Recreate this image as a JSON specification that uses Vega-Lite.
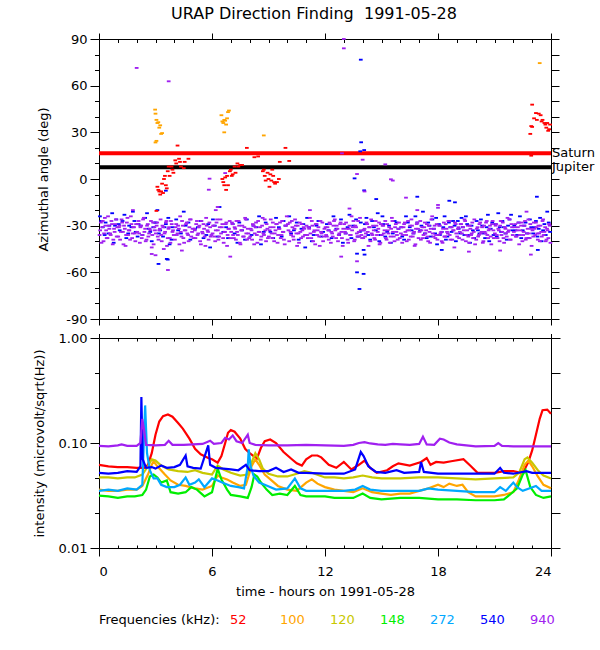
{
  "$schema": "https://vega.github.io/schema/vega-lite/v6.json",
  "title": {"text": "URAP Direction Finding\u00a0 1991-05-28", "anchor": "middle", "font": "DejaVu Sans", "fontSize": 16, "fontWeight": "normal", "color": "black", "offset": 10},
  "padding": {"left": 32, "top": 6, "right": 5, "bottom": 5},
  "bounds": "flush",
  "spacing": 19,
  "config": {
    "font": "DejaVu Sans",
    "view": {"stroke": "black", "strokeWidth": 1},
    "axis": {"domain": false, "grid": false, "labelFont": "DejaVu Sans", "labelFontSize": 13, "labelColor": "black", "tickColor": "black", "tickWidth": 1, "titleFont": "DejaVu Sans", "titleFontSize": 13, "titleFontWeight": "normal", "titleColor": "black"}
  },
  "datasets": {
    "planets": [
      {"body": "Saturn", "az": 16.5},
      {"body": "Jupiter", "az": 7.5}
    ],
    "df": [
      {"t":0.05,"a":-24,"f":"540"},{"t":0.2,"a":-31,"f":"540"},{"t":0.35,"a":-28,"f":"540"},{"t":0.5,"a":-35,"f":"540"},{"t":0.7,"a":-22,"f":"540"},{"t":0.85,"a":-30,"f":"540"},
      {"t":1.1,"a":-33,"f":"540"},{"t":1.25,"a":-27,"f":"540"},{"t":1.45,"a":-38,"f":"540"},{"t":1.6,"a":-30,"f":"540"},{"t":1.8,"a":-21,"f":"540"},{"t":1.95,"a":-34,"f":"540"},
      {"t":2.1,"a":-29,"f":"540"},{"t":2.3,"a":-36,"f":"540"},{"t":2.45,"a":-25,"f":"540"},{"t":2.65,"a":-32,"f":"540"},{"t":2.8,"a":-40,"f":"540"},{"t":2.95,"a":-28,"f":"540"},
      {"t":3.1,"a":-20,"f":"540"},{"t":3.25,"a":-33,"f":"540"},{"t":3.4,"a":-37,"f":"540"},{"t":3.55,"a":-29,"f":"540"},{"t":3.75,"a":-42,"f":"540"},{"t":3.9,"a":-31,"f":"540"},
      {"t":4.1,"a":-26,"f":"540"},{"t":4.35,"a":-35,"f":"540"},{"t":4.6,"a":-30,"f":"540"},{"t":4.85,"a":-39,"f":"540"},
      {"t":5.1,"a":-32,"f":"540"},{"t":5.4,"a":-27,"f":"540"},{"t":5.7,"a":-36,"f":"540"},{"t":5.9,"a":-44,"f":"540"},
      {"t":6.15,"a":-30,"f":"540"},{"t":6.4,"a":-18,"f":"540"},{"t":6.6,"a":-34,"f":"540"},{"t":6.85,"a":-38,"f":"540"},
      {"t":7.1,"a":-29,"f":"540"},{"t":7.35,"a":-41,"f":"540"},{"t":7.6,"a":-33,"f":"540"},{"t":7.85,"a":-26,"f":"540"},
      {"t":8.1,"a":-36,"f":"540"},{"t":8.35,"a":-31,"f":"540"},{"t":8.6,"a":-42,"f":"540"},{"t":8.85,"a":-28,"f":"540"},
      {"t":9.1,"a":-34,"f":"540"},{"t":9.4,"a":-25,"f":"540"},{"t":9.7,"a":-37,"f":"540"},{"t":9.9,"a":-30,"f":"540"},
      {"t":10.1,"a":-24,"f":"540"},{"t":10.35,"a":-33,"f":"540"},{"t":10.6,"a":-39,"f":"540"},{"t":10.85,"a":-29,"f":"540"},{"t":10.95,"a":-44,"f":"540"},
      {"t":11.15,"a":-31,"f":"540"},{"t":11.4,"a":-36,"f":"540"},{"t":11.65,"a":-27,"f":"540"},{"t":11.9,"a":-34,"f":"540"},
      {"t":12.1,"a":-29,"f":"540"},{"t":12.35,"a":-38,"f":"540"},{"t":12.6,"a":-32,"f":"540"},{"t":12.85,"a":-26,"f":"540"},{"t":12.95,"a":-41,"f":"540"},
      {"t":13.1,"a":-35,"f":"540"},{"t":13.3,"a":-23,"f":"540"},{"t":13.5,"a":-30,"f":"540"},{"t":13.75,"a":-37,"f":"540"},{"t":13.9,"a":-28,"f":"540"},
      {"t":14.05,"a":-33,"f":"540"},{"t":14.2,"a":-25,"f":"540"},{"t":14.4,"a":-39,"f":"540"},{"t":14.6,"a":-31,"f":"540"},{"t":14.8,"a":-22,"f":"540"},{"t":14.95,"a":-36,"f":"540"},
      {"t":15.1,"a":-29,"f":"540"},{"t":15.3,"a":-34,"f":"540"},{"t":15.5,"a":-41,"f":"540"},{"t":15.7,"a":-27,"f":"540"},{"t":15.9,"a":-32,"f":"540"},
      {"t":16.1,"a":-37,"f":"540"},{"t":16.3,"a":-24,"f":"540"},{"t":16.5,"a":-31,"f":"540"},{"t":16.7,"a":-35,"f":"540"},{"t":16.9,"a":-28,"f":"540"},
      {"t":17.05,"a":-33,"f":"540"},{"t":17.2,"a":-21,"f":"540"},{"t":17.4,"a":-38,"f":"540"},{"t":17.55,"a":-30,"f":"540"},{"t":17.7,"a":-26,"f":"540"},{"t":17.85,"a":-35,"f":"540"},{"t":17.95,"a":-42,"f":"540"},
      {"t":18.05,"a":-29,"f":"540"},{"t":18.2,"a":-34,"f":"540"},{"t":18.35,"a":-24,"f":"540"},{"t":18.5,"a":-37,"f":"540"},{"t":18.65,"a":-31,"f":"540"},{"t":18.8,"a":-27,"f":"540"},{"t":18.95,"a":-40,"f":"540"},
      {"t":19.1,"a":-32,"f":"540"},{"t":19.25,"a":-25,"f":"540"},{"t":19.4,"a":-36,"f":"540"},{"t":19.55,"a":-29,"f":"540"},{"t":19.7,"a":-41,"f":"540"},{"t":19.85,"a":-33,"f":"540"},
      {"t":20.05,"a":-27,"f":"540"},{"t":20.2,"a":-35,"f":"540"},{"t":20.35,"a":-30,"f":"540"},{"t":20.5,"a":-38,"f":"540"},{"t":20.65,"a":-23,"f":"540"},{"t":20.8,"a":-32,"f":"540"},{"t":20.95,"a":-36,"f":"540"},
      {"t":21.05,"a":-29,"f":"540"},{"t":21.2,"a":-22,"f":"540"},{"t":21.35,"a":-34,"f":"540"},{"t":21.5,"a":-31,"f":"540"},{"t":21.65,"a":-39,"f":"540"},{"t":21.8,"a":-26,"f":"540"},{"t":21.95,"a":-33,"f":"540"},
      {"t":22.05,"a":-30,"f":"540"},{"t":22.2,"a":-36,"f":"540"},{"t":22.35,"a":-24,"f":"540"},{"t":22.5,"a":-33,"f":"540"},{"t":22.65,"a":-28,"f":"540"},{"t":22.8,"a":-38,"f":"540"},{"t":22.95,"a":-31,"f":"540"},
      {"t":23.05,"a":-35,"f":"540"},{"t":23.2,"a":-27,"f":"540"},{"t":23.35,"a":-32,"f":"540"},{"t":23.5,"a":-40,"f":"540"},{"t":23.65,"a":-29,"f":"540"},{"t":23.8,"a":-21,"f":"540"},{"t":23.95,"a":-34,"f":"540"},
      {"t":0.12,"a":-27,"f":"540"},{"t":0.3,"a":-36,"f":"540"},{"t":0.55,"a":-30,"f":"540"},{"t":0.78,"a":-41,"f":"540"},{"t":0.92,"a":-26,"f":"540"},
      {"t":1.05,"a":-29,"f":"540"},{"t":1.35,"a":-23,"f":"540"},{"t":1.55,"a":-35,"f":"540"},{"t":1.72,"a":-31,"f":"540"},{"t":1.88,"a":-27,"f":"540"},
      {"t":2.05,"a":-37,"f":"540"},{"t":2.2,"a":-30,"f":"540"},{"t":2.55,"a":-22,"f":"540"},{"t":2.72,"a":-34,"f":"540"},{"t":2.88,"a":-31,"f":"540"},
      {"t":3.02,"a":-28,"f":"540"},{"t":3.18,"a":-35,"f":"540"},{"t":3.48,"a":-31,"f":"540"},{"t":3.68,"a":-25,"f":"540"},{"t":3.85,"a":-39,"f":"540"},
      {"t":4.2,"a":-33,"f":"540"},{"t":4.5,"a":-21,"f":"540"},{"t":4.75,"a":-28,"f":"540"},
      {"t":5.25,"a":-31,"f":"540"},{"t":5.55,"a":-38,"f":"540"},{"t":5.8,"a":-29,"f":"540"},
      {"t":6.05,"a":-26,"f":"540"},{"t":6.3,"a":-37,"f":"540"},{"t":6.75,"a":-31,"f":"540"},
      {"t":7.2,"a":-35,"f":"540"},{"t":7.45,"a":-28,"f":"540"},{"t":7.75,"a":-39,"f":"540"},
      {"t":8.2,"a":-30,"f":"540"},{"t":8.5,"a":-24,"f":"540"},{"t":8.75,"a":-34,"f":"540"},
      {"t":9.25,"a":-38,"f":"540"},{"t":9.55,"a":-31,"f":"540"},{"t":9.8,"a":-27,"f":"540"},
      {"t":10.2,"a":-35,"f":"540"},{"t":10.5,"a":-28,"f":"540"},{"t":10.75,"a":-32,"f":"540"},
      {"t":11.05,"a":-25,"f":"540"},{"t":11.3,"a":-40,"f":"540"},{"t":11.55,"a":-30,"f":"540"},{"t":11.8,"a":-37,"f":"540"},
      {"t":12.2,"a":-33,"f":"540"},{"t":12.45,"a":-24,"f":"540"},{"t":12.75,"a":-36,"f":"540"},
      {"t":13.2,"a":-31,"f":"540"},{"t":13.4,"a":-38,"f":"540"},{"t":13.65,"a":-26,"f":"540"},{"t":13.85,"a":-34,"f":"540"},
      {"t":14.12,"a":-29,"f":"540"},{"t":14.3,"a":-36,"f":"540"},{"t":14.5,"a":-27,"f":"540"},{"t":14.7,"a":-33,"f":"540"},{"t":14.88,"a":-40,"f":"540"},
      {"t":15.05,"a":-24,"f":"540"},{"t":15.2,"a":-37,"f":"540"},{"t":15.4,"a":-30,"f":"540"},{"t":15.6,"a":-35,"f":"540"},{"t":15.8,"a":-28,"f":"540"},
      {"t":16.05,"a":-31,"f":"540"},{"t":16.2,"a":-39,"f":"540"},{"t":16.4,"a":-28,"f":"540"},{"t":16.6,"a":-33,"f":"540"},{"t":16.8,"a":-24,"f":"540"},
      {"t":17.12,"a":-30,"f":"540"},{"t":17.3,"a":-35,"f":"540"},{"t":17.48,"a":-28,"f":"540"},{"t":17.62,"a":-37,"f":"540"},{"t":17.78,"a":-32,"f":"540"},{"t":17.9,"a":-25,"f":"540"},
      {"t":18.1,"a":-36,"f":"540"},{"t":18.28,"a":-31,"f":"540"},{"t":18.42,"a":-39,"f":"540"},{"t":18.58,"a":-28,"f":"540"},{"t":18.72,"a":-34,"f":"540"},{"t":18.88,"a":-30,"f":"540"},
      {"t":19.05,"a":-27,"f":"540"},{"t":19.18,"a":-35,"f":"540"},{"t":19.32,"a":-31,"f":"540"},{"t":19.48,"a":-24,"f":"540"},{"t":19.62,"a":-36,"f":"540"},{"t":19.78,"a":-30,"f":"540"},{"t":19.92,"a":-38,"f":"540"},
      {"t":20.12,"a":-33,"f":"540"},{"t":20.28,"a":-26,"f":"540"},{"t":20.42,"a":-35,"f":"540"},{"t":20.58,"a":-31,"f":"540"},{"t":20.72,"a":-40,"f":"540"},{"t":20.88,"a":-28,"f":"540"},
      {"t":21.12,"a":-37,"f":"540"},{"t":21.28,"a":-31,"f":"540"},{"t":21.42,"a":-27,"f":"540"},{"t":21.58,"a":-35,"f":"540"},{"t":21.72,"a":-30,"f":"540"},{"t":21.88,"a":-23,"f":"540"},
      {"t":22.12,"a":-33,"f":"540"},{"t":22.28,"a":-28,"f":"540"},{"t":22.42,"a":-38,"f":"540"},{"t":22.58,"a":-30,"f":"540"},{"t":22.72,"a":-35,"f":"540"},{"t":22.88,"a":-26,"f":"540"},
      {"t":23.12,"a":-31,"f":"540"},{"t":23.28,"a":-37,"f":"540"},{"t":23.42,"a":-25,"f":"540"},{"t":23.58,"a":-33,"f":"540"},{"t":23.72,"a":-36,"f":"540"},{"t":23.88,"a":-28,"f":"540"},
      {"t":13.9,"a":76.7,"f":"540"},{"t":14.08,"a":18.6,"f":"540"},{"t":13.92,"a":23.6,"f":"540"},{"t":13.87,"a":17.8,"f":"540"},{"t":13.57,"a":0.4,"f":"540"},{"t":14.08,"a":-7.3,"f":"540"},{"t":13.7,"a":-60,"f":"540"},{"t":14.05,"a":-61,"f":"540"},{"t":13.83,"a":-70.7,"f":"540"},{"t":13.7,"a":-48,"f":"540"},{"t":14.05,"a":-45.6,"f":"540"},{"t":14.1,"a":-48.6,"f":"540"},{"t":18.2,"a":-45.6,"f":"540"},{"t":23.3,"a":-45.6,"f":"540"},{"t":23.25,"a":-11.4,"f":"540"},{"t":16.9,"a":-11.4,"f":"540"},{"t":14.72,"a":-12.9,"f":"540"},{"t":18.6,"a":-14,"f":"540"},{"t":3.16,"a":-54.6,"f":"540"},{"t":3.6,"a":-51.4,"f":"540"},{"t":3.65,"a":-51.8,"f":"540"},{"t":18.9,"a":-15,"f":"540"},{"t":3.55,"a":-7.5,"f":"540"},
      {"t":0.03,"a":-36,"f":"940"},{"t":0.10,"a":-28,"f":"940"},{"t":0.17,"a":-31,"f":"940"},{"t":0.24,"a":-40,"f":"940"},{"t":0.31,"a":-25,"f":"940"},{"t":0.38,"a":-33,"f":"940"},{"t":0.45,"a":-38,"f":"940"},{"t":0.52,"a":-30,"f":"940"},{"t":0.59,"a":-35,"f":"940"},{"t":0.66,"a":-27,"f":"940"},{"t":0.73,"a":-42,"f":"940"},{"t":0.80,"a":-32,"f":"940"},{"t":0.87,"a":-29,"f":"940"},{"t":0.94,"a":-37,"f":"940"},
      {"t":1.06,"a":-31,"f":"940"},{"t":1.12,"a":-39,"f":"940"},{"t":1.20,"a":-26,"f":"940"},{"t":1.27,"a":-34,"f":"940"},{"t":1.33,"a":-30,"f":"940"},{"t":1.41,"a":-43,"f":"940"},{"t":1.48,"a":-28,"f":"940"},{"t":1.55,"a":-36,"f":"940"},{"t":1.61,"a":-33,"f":"940"},{"t":1.69,"a":-24,"f":"940"},{"t":1.76,"a":-38,"f":"940"},{"t":1.82,"a":-31,"f":"940"},{"t":1.90,"a":-35,"f":"940"},{"t":1.97,"a":-29,"f":"940"},
      {"t":2.03,"a":-34,"f":"940"},{"t":2.10,"a":-27,"f":"940"},{"t":2.17,"a":-41,"f":"940"},{"t":2.24,"a":-30,"f":"940"},{"t":2.31,"a":-36,"f":"940"},{"t":2.38,"a":-25,"f":"940"},{"t":2.45,"a":-32,"f":"940"},{"t":2.52,"a":-39,"f":"940"},{"t":2.59,"a":-29,"f":"940"},{"t":2.66,"a":-35,"f":"940"},{"t":2.73,"a":-33,"f":"940"},{"t":2.80,"a":-44,"f":"940"},{"t":2.87,"a":-28,"f":"940"},{"t":2.94,"a":-31,"f":"940"},
      {"t":3.06,"a":-30,"f":"940"},{"t":3.12,"a":-37,"f":"940"},{"t":3.20,"a":-33,"f":"940"},{"t":3.27,"a":-26,"f":"940"},{"t":3.33,"a":-40,"f":"940"},{"t":3.41,"a":-31,"f":"940"},{"t":3.48,"a":-35,"f":"940"},{"t":3.55,"a":-28,"f":"940"},{"t":3.61,"a":-43,"f":"940"},{"t":3.69,"a":-32,"f":"940"},{"t":3.76,"a":-38,"f":"940"},{"t":3.82,"a":-27,"f":"940"},{"t":3.90,"a":-34,"f":"940"},{"t":3.97,"a":-36,"f":"940"},
      {"t":4.03,"a":-39,"f":"940"},{"t":4.10,"a":-29,"f":"940"},{"t":4.17,"a":-35,"f":"940"},{"t":4.24,"a":-32,"f":"940"},{"t":4.31,"a":-24,"f":"940"},{"t":4.38,"a":-37,"f":"940"},{"t":4.45,"a":-30,"f":"940"},{"t":4.52,"a":-41,"f":"940"},{"t":4.59,"a":-33,"f":"940"},{"t":4.66,"a":-28,"f":"940"},{"t":4.73,"a":-36,"f":"940"},{"t":4.80,"a":-31,"f":"940"},{"t":4.87,"a":-26,"f":"940"},{"t":4.94,"a":-34,"f":"940"},
      {"t":5.06,"a":-32,"f":"940"},{"t":5.12,"a":-38,"f":"940"},{"t":5.20,"a":-27,"f":"940"},{"t":5.27,"a":-35,"f":"940"},{"t":5.33,"a":-30,"f":"940"},{"t":5.41,"a":-42,"f":"940"},{"t":5.48,"a":-34,"f":"940"},{"t":5.55,"a":-29,"f":"940"},{"t":5.61,"a":-37,"f":"940"},{"t":5.69,"a":-25,"f":"940"},{"t":5.76,"a":-33,"f":"940"},{"t":5.82,"a":-39,"f":"940"},{"t":5.90,"a":-31,"f":"940"},{"t":5.97,"a":-36,"f":"940"},
      {"t":6.03,"a":-35,"f":"940"},{"t":6.10,"a":-30,"f":"940"},{"t":6.17,"a":-40,"f":"940"},{"t":6.24,"a":-28,"f":"940"},{"t":6.31,"a":-33,"f":"940"},{"t":6.38,"a":-37,"f":"940"},{"t":6.45,"a":-26,"f":"940"},{"t":6.52,"a":-31,"f":"940"},{"t":6.59,"a":-38,"f":"940"},{"t":6.66,"a":-34,"f":"940"},{"t":6.73,"a":-29,"f":"940"},{"t":6.80,"a":-43,"f":"940"},{"t":6.87,"a":-32,"f":"940"},{"t":6.94,"a":-27,"f":"940"},
      {"t":7.06,"a":-28,"f":"940"},{"t":7.12,"a":-36,"f":"940"},{"t":7.20,"a":-31,"f":"940"},{"t":7.27,"a":-39,"f":"940"},{"t":7.33,"a":-34,"f":"940"},{"t":7.41,"a":-27,"f":"940"},{"t":7.48,"a":-41,"f":"940"},{"t":7.55,"a":-33,"f":"940"},{"t":7.61,"a":-30,"f":"940"},{"t":7.69,"a":-37,"f":"940"},{"t":7.76,"a":-25,"f":"940"},{"t":7.82,"a":-35,"f":"940"},{"t":7.90,"a":-32,"f":"940"},{"t":7.97,"a":-38,"f":"940"},
      {"t":8.03,"a":-37,"f":"940"},{"t":8.10,"a":-33,"f":"940"},{"t":8.17,"a":-29,"f":"940"},{"t":8.24,"a":-42,"f":"940"},{"t":8.31,"a":-31,"f":"940"},{"t":8.38,"a":-36,"f":"940"},{"t":8.45,"a":-27,"f":"940"},{"t":8.52,"a":-34,"f":"940"},{"t":8.59,"a":-39,"f":"940"},{"t":8.66,"a":-30,"f":"940"},{"t":8.73,"a":-35,"f":"940"},{"t":8.80,"a":-26,"f":"940"},{"t":8.87,"a":-40,"f":"940"},{"t":8.94,"a":-32,"f":"940"},
      {"t":9.06,"a":-33,"f":"940"},{"t":9.12,"a":-26,"f":"940"},{"t":9.20,"a":-38,"f":"940"},{"t":9.27,"a":-31,"f":"940"},{"t":9.33,"a":-35,"f":"940"},{"t":9.41,"a":-29,"f":"940"},{"t":9.48,"a":-41,"f":"940"},{"t":9.55,"a":-32,"f":"940"},{"t":9.61,"a":-28,"f":"940"},{"t":9.69,"a":-36,"f":"940"},{"t":9.76,"a":-34,"f":"940"},{"t":9.82,"a":-39,"f":"940"},{"t":9.90,"a":-30,"f":"940"},{"t":9.97,"a":-24,"f":"940"},
      {"t":10.03,"a":-29,"f":"940"},{"t":10.10,"a":-40,"f":"940"},{"t":10.17,"a":-34,"f":"940"},{"t":10.24,"a":-27,"f":"940"},{"t":10.31,"a":-37,"f":"940"},{"t":10.38,"a":-32,"f":"940"},{"t":10.45,"a":-30,"f":"940"},{"t":10.52,"a":-43,"f":"940"},{"t":10.59,"a":-35,"f":"940"},{"t":10.66,"a":-28,"f":"940"},{"t":10.73,"a":-38,"f":"940"},{"t":10.80,"a":-33,"f":"940"},{"t":10.87,"a":-31,"f":"940"},{"t":10.94,"a":-36,"f":"940"},
      {"t":11.06,"a":-36,"f":"940"},{"t":11.12,"a":-31,"f":"940"},{"t":11.20,"a":-25,"f":"940"},{"t":11.27,"a":-38,"f":"940"},{"t":11.33,"a":-30,"f":"940"},{"t":11.41,"a":-34,"f":"940"},{"t":11.48,"a":-42,"f":"940"},{"t":11.55,"a":-29,"f":"940"},{"t":11.61,"a":-33,"f":"940"},{"t":11.69,"a":-37,"f":"940"},{"t":11.76,"a":-27,"f":"940"},{"t":11.82,"a":-35,"f":"940"},{"t":11.90,"a":-40,"f":"940"},{"t":11.97,"a":-32,"f":"940"},
      {"t":12.03,"a":-31,"f":"940"},{"t":12.10,"a":-37,"f":"940"},{"t":12.17,"a":-33,"f":"940"},{"t":12.24,"a":-28,"f":"940"},{"t":12.31,"a":-41,"f":"940"},{"t":12.38,"a":-35,"f":"940"},{"t":12.45,"a":-30,"f":"940"},{"t":12.52,"a":-26,"f":"940"},{"t":12.59,"a":-38,"f":"940"},{"t":12.66,"a":-32,"f":"940"},{"t":12.73,"a":-36,"f":"940"},{"t":12.80,"a":-29,"f":"940"},{"t":12.87,"a":-34,"f":"940"},{"t":12.94,"a":-43,"f":"940"},
      {"t":13.06,"a":-34,"f":"940"},{"t":13.12,"a":-28,"f":"940"},{"t":13.20,"a":-39,"f":"940"},{"t":13.27,"a":-32,"f":"940"},{"t":13.33,"a":-36,"f":"940"},{"t":13.41,"a":-24,"f":"940"},{"t":13.48,"a":-31,"f":"940"},{"t":13.55,"a":-40,"f":"940"},{"t":13.61,"a":-30,"f":"940"},{"t":13.69,"a":-35,"f":"940"},{"t":13.76,"a":-27,"f":"940"},{"t":13.82,"a":-37,"f":"940"},{"t":13.90,"a":-33,"f":"940"},{"t":13.97,"a":-38,"f":"940"},
      {"t":14.03,"a":-38,"f":"940"},{"t":14.10,"a":-32,"f":"940"},{"t":14.17,"a":-35,"f":"940"},{"t":14.24,"a":-29,"f":"940"},{"t":14.31,"a":-43,"f":"940"},{"t":14.38,"a":-31,"f":"940"},{"t":14.45,"a":-26,"f":"940"},{"t":14.52,"a":-36,"f":"940"},{"t":14.59,"a":-33,"f":"940"},{"t":14.66,"a":-39,"f":"940"},{"t":14.73,"a":-30,"f":"940"},{"t":14.80,"a":-34,"f":"940"},{"t":14.87,"a":-28,"f":"940"},{"t":14.94,"a":-41,"f":"940"},
      {"t":15.06,"a":-30,"f":"940"},{"t":15.12,"a":-35,"f":"940"},{"t":15.20,"a":-27,"f":"940"},{"t":15.27,"a":-39,"f":"940"},{"t":15.33,"a":-33,"f":"940"},{"t":15.41,"a":-31,"f":"940"},{"t":15.48,"a":-37,"f":"940"},{"t":15.55,"a":-25,"f":"940"},{"t":15.61,"a":-34,"f":"940"},{"t":15.69,"a":-40,"f":"940"},{"t":15.76,"a":-29,"f":"940"},{"t":15.82,"a":-36,"f":"940"},{"t":15.90,"a":-32,"f":"940"},{"t":15.97,"a":-38,"f":"940"},
      {"t":16.03,"a":-35,"f":"940"},{"t":16.10,"a":-41,"f":"940"},{"t":16.17,"a":-31,"f":"940"},{"t":16.24,"a":-28,"f":"940"},{"t":16.31,"a":-36,"f":"940"},{"t":16.38,"a":-33,"f":"940"},{"t":16.45,"a":-39,"f":"940"},{"t":16.52,"a":-30,"f":"940"},{"t":16.59,"a":-26,"f":"940"},{"t":16.66,"a":-37,"f":"940"},{"t":16.73,"a":-34,"f":"940"},{"t":16.80,"a":-42,"f":"940"},{"t":16.87,"a":-29,"f":"940"},{"t":16.94,"a":-32,"f":"940"},
      {"t":17.06,"a":-27,"f":"940"},{"t":17.12,"a":-33,"f":"940"},{"t":17.20,"a":-38,"f":"940"},{"t":17.27,"a":-31,"f":"940"},{"t":17.33,"a":-35,"f":"940"},{"t":17.41,"a":-29,"f":"940"},{"t":17.48,"a":-40,"f":"940"},{"t":17.55,"a":-34,"f":"940"},{"t":17.61,"a":-32,"f":"940"},{"t":17.69,"a":-24,"f":"940"},{"t":17.76,"a":-37,"f":"940"},{"t":17.82,"a":-30,"f":"940"},{"t":17.90,"a":-36,"f":"940"},{"t":17.97,"a":-39,"f":"940"},
      {"t":18.03,"a":-36,"f":"940"},{"t":18.10,"a":-30,"f":"940"},{"t":18.17,"a":-34,"f":"940"},{"t":18.24,"a":-41,"f":"940"},{"t":18.31,"a":-28,"f":"940"},{"t":18.38,"a":-37,"f":"940"},{"t":18.45,"a":-32,"f":"940"},{"t":18.52,"a":-35,"f":"940"},{"t":18.59,"a":-27,"f":"940"},{"t":18.66,"a":-39,"f":"940"},{"t":18.73,"a":-31,"f":"940"},{"t":18.80,"a":-33,"f":"940"},{"t":18.87,"a":-44,"f":"940"},{"t":18.94,"a":-29,"f":"940"},
      {"t":19.06,"a":-32,"f":"940"},{"t":19.12,"a":-38,"f":"940"},{"t":19.20,"a":-29,"f":"940"},{"t":19.27,"a":-35,"f":"940"},{"t":19.33,"a":-31,"f":"940"},{"t":19.41,"a":-26,"f":"940"},{"t":19.48,"a":-40,"f":"940"},{"t":19.55,"a":-33,"f":"940"},{"t":19.61,"a":-37,"f":"940"},{"t":19.69,"a":-30,"f":"940"},{"t":19.76,"a":-36,"f":"940"},{"t":19.82,"a":-28,"f":"940"},{"t":19.90,"a":-34,"f":"940"},{"t":19.97,"a":-42,"f":"940"},
      {"t":20.03,"a":-39,"f":"940"},{"t":20.10,"a":-31,"f":"940"},{"t":20.17,"a":-36,"f":"940"},{"t":20.24,"a":-28,"f":"940"},{"t":20.31,"a":-34,"f":"940"},{"t":20.38,"a":-41,"f":"940"},{"t":20.45,"a":-30,"f":"940"},{"t":20.52,"a":-35,"f":"940"},{"t":20.59,"a":-27,"f":"940"},{"t":20.66,"a":-38,"f":"940"},{"t":20.73,"a":-32,"f":"940"},{"t":20.80,"a":-37,"f":"940"},{"t":20.87,"a":-29,"f":"940"},{"t":20.94,"a":-33,"f":"940"},
      {"t":21.06,"a":-30,"f":"940"},{"t":21.12,"a":-36,"f":"940"},{"t":21.20,"a":-32,"f":"940"},{"t":21.27,"a":-40,"f":"940"},{"t":21.33,"a":-27,"f":"940"},{"t":21.41,"a":-34,"f":"940"},{"t":21.48,"a":-38,"f":"940"},{"t":21.55,"a":-31,"f":"940"},{"t":21.61,"a":-35,"f":"940"},{"t":21.69,"a":-25,"f":"940"},{"t":21.76,"a":-33,"f":"940"},{"t":21.82,"a":-39,"f":"940"},{"t":21.90,"a":-29,"f":"940"},{"t":21.97,"a":-36,"f":"940"},
      {"t":22.03,"a":-34,"f":"940"},{"t":22.10,"a":-29,"f":"940"},{"t":22.17,"a":-37,"f":"940"},{"t":22.24,"a":-31,"f":"940"},{"t":22.31,"a":-42,"f":"940"},{"t":22.38,"a":-33,"f":"940"},{"t":22.45,"a":-28,"f":"940"},{"t":22.52,"a":-36,"f":"940"},{"t":22.59,"a":-30,"f":"940"},{"t":22.66,"a":-39,"f":"940"},{"t":22.73,"a":-35,"f":"940"},{"t":22.80,"a":-26,"f":"940"},{"t":22.87,"a":-38,"f":"940"},{"t":22.94,"a":-32,"f":"940"},
      {"t":23.06,"a":-37,"f":"940"},{"t":23.12,"a":-32,"f":"940"},{"t":23.20,"a":-28,"f":"940"},{"t":23.27,"a":-35,"f":"940"},{"t":23.33,"a":-30,"f":"940"},{"t":23.41,"a":-40,"f":"940"},{"t":23.48,"a":-34,"f":"940"},{"t":23.55,"a":-27,"f":"940"},{"t":23.61,"a":-36,"f":"940"},{"t":23.69,"a":-31,"f":"940"},{"t":23.76,"a":-39,"f":"940"},{"t":23.82,"a":-33,"f":"940"},{"t":23.90,"a":-29,"f":"940"},{"t":23.97,"a":-41,"f":"940"},
      {"t":0.06,"a":-33,"f":"940"},{"t":0.13,"a":-41,"f":"940"},{"t":0.20,"a":-27,"f":"940"},{"t":0.27,"a":-35,"f":"940"},{"t":0.34,"a":-30,"f":"940"},{"t":0.41,"a":-38,"f":"940"},{"t":0.48,"a":-24,"f":"940"},{"t":0.55,"a":-32,"f":"940"},{"t":0.62,"a":-36,"f":"940"},{"t":0.69,"a":-29,"f":"940"},{"t":0.76,"a":-39,"f":"940"},{"t":0.83,"a":-34,"f":"940"},{"t":0.90,"a":-26,"f":"940"},{"t":0.97,"a":-31,"f":"940"},
      {"t":1.02,"a":-37,"f":"940"},{"t":1.09,"a":-30,"f":"940"},{"t":1.16,"a":-34,"f":"940"},{"t":1.23,"a":-28,"f":"940"},{"t":1.30,"a":-42,"f":"940"},{"t":1.37,"a":-32,"f":"940"},{"t":1.44,"a":-36,"f":"940"},{"t":1.51,"a":-25,"f":"940"},{"t":1.58,"a":-33,"f":"940"},{"t":1.65,"a":-39,"f":"940"},{"t":1.72,"a":-29,"f":"940"},{"t":1.79,"a":-35,"f":"940"},{"t":1.86,"a":-31,"f":"940"},{"t":1.93,"a":-40,"f":"940"},
      {"t":2.06,"a":-29,"f":"940"},{"t":2.13,"a":-35,"f":"940"},{"t":2.20,"a":-31,"f":"940"},{"t":2.27,"a":-38,"f":"940"},{"t":2.34,"a":-26,"f":"940"},{"t":2.41,"a":-34,"f":"940"},{"t":2.48,"a":-40,"f":"940"},{"t":2.55,"a":-30,"f":"940"},{"t":2.62,"a":-37,"f":"940"},{"t":2.69,"a":-32,"f":"940"},{"t":2.76,"a":-27,"f":"940"},{"t":2.83,"a":-36,"f":"940"},{"t":2.90,"a":-42,"f":"940"},{"t":2.97,"a":-33,"f":"940"},
      {"t":3.02,"a":-35,"f":"940"},{"t":3.09,"a":-28,"f":"940"},{"t":3.16,"a":-39,"f":"940"},{"t":3.23,"a":-32,"f":"940"},{"t":3.30,"a":-36,"f":"940"},{"t":3.37,"a":-30,"f":"940"},{"t":3.44,"a":-45,"f":"940"},{"t":3.51,"a":-34,"f":"940"},{"t":3.58,"a":-27,"f":"940"},{"t":3.65,"a":-38,"f":"940"},{"t":3.72,"a":-31,"f":"940"},{"t":3.79,"a":-41,"f":"940"},{"t":3.86,"a":-29,"f":"940"},{"t":3.93,"a":-33,"f":"940"},
      {"t":4.06,"a":-31,"f":"940"},{"t":4.13,"a":-36,"f":"940"},{"t":4.20,"a":-30,"f":"940"},{"t":4.27,"a":-42,"f":"940"},{"t":4.34,"a":-34,"f":"940"},{"t":4.41,"a":-27,"f":"940"},{"t":4.48,"a":-38,"f":"940"},{"t":4.55,"a":-33,"f":"940"},{"t":4.62,"a":-29,"f":"940"},{"t":4.69,"a":-35,"f":"940"},{"t":4.76,"a":-40,"f":"940"},{"t":4.83,"a":-26,"f":"940"},{"t":4.90,"a":-37,"f":"940"},{"t":4.97,"a":-32,"f":"940"},
      {"t":5.02,"a":-38,"f":"940"},{"t":5.09,"a":-33,"f":"940"},{"t":5.16,"a":-29,"f":"940"},{"t":5.23,"a":-36,"f":"940"},{"t":5.30,"a":-31,"f":"940"},{"t":5.37,"a":-40,"f":"940"},{"t":5.44,"a":-27,"f":"940"},{"t":5.51,"a":-35,"f":"940"},{"t":5.58,"a":-32,"f":"940"},{"t":5.65,"a":-43,"f":"940"},{"t":5.72,"a":-30,"f":"940"},{"t":5.79,"a":-34,"f":"940"},{"t":5.86,"a":-28,"f":"940"},{"t":5.93,"a":-37,"f":"940"},
      {"t":6.06,"a":-30,"f":"940"},{"t":6.13,"a":-37,"f":"940"},{"t":6.20,"a":-33,"f":"940"},{"t":6.27,"a":-26,"f":"940"},{"t":6.34,"a":-39,"f":"940"},{"t":6.41,"a":-31,"f":"940"},{"t":6.48,"a":-35,"f":"940"},{"t":6.55,"a":-29,"f":"940"},{"t":6.62,"a":-41,"f":"940"},{"t":6.69,"a":-34,"f":"940"},{"t":6.76,"a":-28,"f":"940"},{"t":6.83,"a":-36,"f":"940"},{"t":6.90,"a":-32,"f":"940"},{"t":6.97,"a":-38,"f":"940"},
      {"t":7.02,"a":-34,"f":"940"},{"t":7.09,"a":-29,"f":"940"},{"t":7.16,"a":-38,"f":"940"},{"t":7.23,"a":-32,"f":"940"},{"t":7.30,"a":-27,"f":"940"},{"t":7.37,"a":-36,"f":"940"},{"t":7.44,"a":-30,"f":"940"},{"t":7.51,"a":-42,"f":"940"},{"t":7.58,"a":-33,"f":"940"},{"t":7.65,"a":-37,"f":"940"},{"t":7.72,"a":-31,"f":"940"},{"t":7.79,"a":-26,"f":"940"},{"t":7.86,"a":-39,"f":"940"},{"t":7.93,"a":-35,"f":"940"},
      {"t":8.06,"a":-32,"f":"940"},{"t":8.13,"a":-39,"f":"940"},{"t":8.20,"a":-30,"f":"940"},{"t":8.27,"a":-35,"f":"940"},{"t":8.34,"a":-28,"f":"940"},{"t":8.41,"a":-41,"f":"940"},{"t":8.48,"a":-34,"f":"940"},{"t":8.55,"a":-31,"f":"940"},{"t":8.62,"a":-37,"f":"940"},{"t":8.69,"a":-25,"f":"940"},{"t":8.76,"a":-36,"f":"940"},{"t":8.83,"a":-33,"f":"940"},{"t":8.90,"a":-29,"f":"940"},{"t":8.97,"a":-38,"f":"940"},
      {"t":9.02,"a":-37,"f":"940"},{"t":9.09,"a":-31,"f":"940"},{"t":9.16,"a":-35,"f":"940"},{"t":9.23,"a":-28,"f":"940"},{"t":9.30,"a":-40,"f":"940"},{"t":9.37,"a":-33,"f":"940"},{"t":9.44,"a":-29,"f":"940"},{"t":9.51,"a":-36,"f":"940"},{"t":9.58,"a":-32,"f":"940"},{"t":9.65,"a":-38,"f":"940"},{"t":9.72,"a":-27,"f":"940"},{"t":9.79,"a":-34,"f":"940"},{"t":9.86,"a":-42,"f":"940"},{"t":9.93,"a":-30,"f":"940"},
      {"t":10.06,"a":-33,"f":"940"},{"t":10.13,"a":-28,"f":"940"},{"t":10.20,"a":-36,"f":"940"},{"t":10.27,"a":-31,"f":"940"},{"t":10.34,"a":-39,"f":"940"},{"t":10.41,"a":-26,"f":"940"},{"t":10.48,"a":-35,"f":"940"},{"t":10.55,"a":-30,"f":"940"},{"t":10.62,"a":-41,"f":"940"},{"t":10.69,"a":-34,"f":"940"},{"t":10.76,"a":-29,"f":"940"},{"t":10.83,"a":-37,"f":"940"},{"t":10.90,"a":-32,"f":"940"},{"t":10.97,"a":-36,"f":"940"},
      {"t":11.02,"a":-30,"f":"940"},{"t":11.09,"a":-38,"f":"940"},{"t":11.16,"a":-32,"f":"940"},{"t":11.23,"a":-35,"f":"940"},{"t":11.30,"a":-27,"f":"940"},{"t":11.37,"a":-40,"f":"940"},{"t":11.44,"a":-33,"f":"940"},{"t":11.51,"a":-29,"f":"940"},{"t":11.58,"a":-36,"f":"940"},{"t":11.65,"a":-31,"f":"940"},{"t":11.72,"a":-43,"f":"940"},{"t":11.79,"a":-34,"f":"940"},{"t":11.86,"a":-28,"f":"940"},{"t":11.93,"a":-37,"f":"940"},
      {"t":12.06,"a":-36,"f":"940"},{"t":12.13,"a":-31,"f":"940"},{"t":12.20,"a":-39,"f":"940"},{"t":12.27,"a":-29,"f":"940"},{"t":12.34,"a":-34,"f":"940"},{"t":12.41,"a":-37,"f":"940"},{"t":12.48,"a":-27,"f":"940"},{"t":12.55,"a":-33,"f":"940"},{"t":12.62,"a":-30,"f":"940"},{"t":12.69,"a":-40,"f":"940"},{"t":12.76,"a":-35,"f":"940"},{"t":12.83,"a":-28,"f":"940"},{"t":12.90,"a":-38,"f":"940"},{"t":12.97,"a":-32,"f":"940"},
      {"t":13.02,"a":-29,"f":"940"},{"t":13.09,"a":-35,"f":"940"},{"t":13.16,"a":-32,"f":"940"},{"t":13.23,"a":-41,"f":"940"},{"t":13.30,"a":-30,"f":"940"},{"t":13.37,"a":-36,"f":"940"},{"t":13.44,"a":-33,"f":"940"},{"t":13.51,"a":-27,"f":"940"},{"t":13.58,"a":-39,"f":"940"},{"t":13.65,"a":-31,"f":"940"},{"t":13.72,"a":-37,"f":"940"},{"t":13.79,"a":-34,"f":"940"},{"t":13.86,"a":-25,"f":"940"},{"t":13.93,"a":-36,"f":"940"},
      {"t":14.06,"a":-33,"f":"940"},{"t":14.13,"a":-37,"f":"940"},{"t":14.20,"a":-28,"f":"940"},{"t":14.27,"a":-34,"f":"940"},{"t":14.34,"a":-31,"f":"940"},{"t":14.41,"a":-40,"f":"940"},{"t":14.48,"a":-35,"f":"940"},{"t":14.55,"a":-30,"f":"940"},{"t":14.62,"a":-38,"f":"940"},{"t":14.69,"a":-27,"f":"940"},{"t":14.76,"a":-36,"f":"940"},{"t":14.83,"a":-32,"f":"940"},{"t":14.90,"a":-42,"f":"940"},{"t":14.97,"a":-29,"f":"940"},
      {"t":15.02,"a":-36,"f":"940"},{"t":15.09,"a":-30,"f":"940"},{"t":15.16,"a":-33,"f":"940"},{"t":15.23,"a":-38,"f":"940"},{"t":15.30,"a":-29,"f":"940"},{"t":15.37,"a":-35,"f":"940"},{"t":15.44,"a":-41,"f":"940"},{"t":15.51,"a":-32,"f":"940"},{"t":15.58,"a":-27,"f":"940"},{"t":15.65,"a":-37,"f":"940"},{"t":15.72,"a":-31,"f":"940"},{"t":15.79,"a":-34,"f":"940"},{"t":15.86,"a":-39,"f":"940"},{"t":15.93,"a":-28,"f":"940"},
      {"t":16.06,"a":-31,"f":"940"},{"t":16.13,"a":-36,"f":"940"},{"t":16.20,"a":-29,"f":"940"},{"t":16.27,"a":-34,"f":"940"},{"t":16.34,"a":-40,"f":"940"},{"t":16.41,"a":-27,"f":"940"},{"t":16.48,"a":-33,"f":"940"},{"t":16.55,"a":-37,"f":"940"},{"t":16.62,"a":-30,"f":"940"},{"t":16.69,"a":-35,"f":"940"},{"t":16.76,"a":-43,"f":"940"},{"t":16.83,"a":-32,"f":"940"},{"t":16.90,"a":-28,"f":"940"},{"t":16.97,"a":-38,"f":"940"},
      {"t":17.02,"a":-34,"f":"940"},{"t":17.09,"a":-39,"f":"940"},{"t":17.16,"a":-31,"f":"940"},{"t":17.23,"a":-36,"f":"940"},{"t":17.30,"a":-28,"f":"940"},{"t":17.37,"a":-33,"f":"940"},{"t":17.44,"a":-37,"f":"940"},{"t":17.51,"a":-30,"f":"940"},{"t":17.58,"a":-41,"f":"940"},{"t":17.65,"a":-26,"f":"940"},{"t":17.72,"a":-35,"f":"940"},{"t":17.79,"a":-32,"f":"940"},{"t":17.86,"a":-38,"f":"940"},{"t":17.93,"a":-29,"f":"940"},
      {"t":18.06,"a":-30,"f":"940"},{"t":18.13,"a":-35,"f":"940"},{"t":18.20,"a":-40,"f":"940"},{"t":18.27,"a":-32,"f":"940"},{"t":18.34,"a":-37,"f":"940"},{"t":18.41,"a":-29,"f":"940"},{"t":18.48,"a":-34,"f":"940"},{"t":18.55,"a":-27,"f":"940"},{"t":18.62,"a":-36,"f":"940"},{"t":18.69,"a":-31,"f":"940"},{"t":18.76,"a":-39,"f":"940"},{"t":18.83,"a":-33,"f":"940"},{"t":18.90,"a":-28,"f":"940"},{"t":18.97,"a":-35,"f":"940"},
      {"t":19.02,"a":-37,"f":"940"},{"t":19.09,"a":-31,"f":"940"},{"t":19.16,"a":-34,"f":"940"},{"t":19.23,"a":-29,"f":"940"},{"t":19.30,"a":-39,"f":"940"},{"t":19.37,"a":-33,"f":"940"},{"t":19.44,"a":-27,"f":"940"},{"t":19.51,"a":-36,"f":"940"},{"t":19.58,"a":-30,"f":"940"},{"t":19.65,"a":-41,"f":"940"},{"t":19.72,"a":-32,"f":"940"},{"t":19.79,"a":-35,"f":"940"},{"t":19.86,"a":-38,"f":"940"},{"t":19.93,"a":-26,"f":"940"},
      {"t":20.06,"a":-32,"f":"940"},{"t":20.13,"a":-37,"f":"940"},{"t":20.20,"a":-29,"f":"940"},{"t":20.27,"a":-35,"f":"940"},{"t":20.34,"a":-31,"f":"940"},{"t":20.41,"a":-40,"f":"940"},{"t":20.48,"a":-34,"f":"940"},{"t":20.55,"a":-28,"f":"940"},{"t":20.62,"a":-36,"f":"940"},{"t":20.69,"a":-33,"f":"940"},{"t":20.76,"a":-30,"f":"940"},{"t":20.83,"a":-42,"f":"940"},{"t":20.90,"a":-27,"f":"940"},{"t":20.97,"a":-38,"f":"940"},
      {"t":21.02,"a":-35,"f":"940"},{"t":21.09,"a":-29,"f":"940"},{"t":21.16,"a":-38,"f":"940"},{"t":21.23,"a":-33,"f":"940"},{"t":21.30,"a":-30,"f":"940"},{"t":21.37,"a":-36,"f":"940"},{"t":21.44,"a":-28,"f":"940"},{"t":21.51,"a":-41,"f":"940"},{"t":21.58,"a":-32,"f":"940"},{"t":21.65,"a":-37,"f":"940"},{"t":21.72,"a":-34,"f":"940"},{"t":21.79,"a":-26,"f":"940"},{"t":21.86,"a":-39,"f":"940"},{"t":21.93,"a":-31,"f":"940"},
      {"t":22.06,"a":-31,"f":"940"},{"t":22.13,"a":-37,"f":"940"},{"t":22.20,"a":-33,"f":"940"},{"t":22.27,"a":-28,"f":"940"},{"t":22.34,"a":-36,"f":"940"},{"t":22.41,"a":-30,"f":"940"},{"t":22.48,"a":-40,"f":"940"},{"t":22.55,"a":-34,"f":"940"},{"t":22.62,"a":-27,"f":"940"},{"t":22.69,"a":-38,"f":"940"},{"t":22.76,"a":-32,"f":"940"},{"t":22.83,"a":-35,"f":"940"},{"t":22.90,"a":-29,"f":"940"},{"t":22.97,"a":-43,"f":"940"},
      {"t":23.02,"a":-33,"f":"940"},{"t":23.09,"a":-28,"f":"940"},{"t":23.16,"a":-36,"f":"940"},{"t":23.23,"a":-31,"f":"940"},{"t":23.30,"a":-39,"f":"940"},{"t":23.37,"a":-35,"f":"940"},{"t":23.44,"a":-30,"f":"940"},{"t":23.51,"a":-37,"f":"940"},{"t":23.58,"a":-26,"f":"940"},{"t":23.65,"a":-34,"f":"940"},{"t":23.72,"a":-40,"f":"940"},{"t":23.79,"a":-32,"f":"940"},{"t":23.86,"a":-38,"f":"940"},{"t":23.93,"a":-30,"f":"940"},
      {"t":2.0,"a":71.4,"f":"940"},{"t":3.7,"a":62.8,"f":"940"},{"t":13.0,"a":90,"f":"940"},{"t":13.0,"a":84,"f":"940"},{"t":12.9,"a":16.5,"f":"940"},{"t":14.0,"a":12.4,"f":"940"},{"t":15.2,"a":9.4,"f":"940"},{"t":13.7,"a":3.2,"f":"940"},{"t":15.5,"a":-0.2,"f":"940"},{"t":5.87,"a":0.2,"f":"940"},{"t":5.83,"a":-6.9,"f":"940"},{"t":6.7,"a":3.8,"f":"940"},{"t":16.3,"a":-12,"f":"940"},{"t":18.0,"a":-16.7,"f":"940"},{"t":18.0,"a":-18.5,"f":"940"},{"t":2.8,"a":-48.2,"f":"940"},{"t":3.0,"a":-49,"f":"940"},{"t":3.66,"a":-58.5,"f":"940"},{"t":6.97,"a":-49.9,"f":"940"},{"t":12.86,"a":-49.9,"f":"940"},{"t":13.7,"a":-52.9,"f":"940"},{"t":19.64,"a":-46.7,"f":"940"},{"t":22.93,"a":-48.6,"f":"940"},{"t":15.6,"a":-1,"f":"940"},{"t":14.1,"a":-8,"f":"940"},{"t":4.4,"a":-46,"f":"940"},{"t":6.2,"a":-20,"f":"940"},{"t":6.3,"a":-18,"f":"940"},{"t":11.2,"a":-20,"f":"940"},{"t":16.9,"a":-20,"f":"940"},{"t":21.3,"a":-46,"f":"940"},{"t":1.8,"a":-20,"f":"940"},{"t":13.3,"a":-19,"f":"940"},{"t":22.7,"a":-21,"f":"940"},
      {"t":3.05,"a":-20.5,"f":"52"},{"t":3.1,"a":-5,"f":"52"},{"t":3.15,"a":-7,"f":"52"},{"t":3.2,"a":-8,"f":"52"},{"t":3.25,"a":-10,"f":"52"},{"t":3.3,"a":-8,"f":"52"},{"t":3.35,"a":-3,"f":"52"},{"t":3.4,"a":-9,"f":"52"},{"t":3.45,"a":0,"f":"52"},{"t":3.5,"a":2,"f":"52"},{"t":3.55,"a":-4,"f":"52"},{"t":3.6,"a":-6,"f":"52"},{"t":3.65,"a":5,"f":"52"},{"t":3.7,"a":8,"f":"52"},{"t":3.75,"a":2,"f":"52"},{"t":3.85,"a":8,"f":"52"},{"t":3.9,"a":6,"f":"52"},{"t":3.95,"a":4,"f":"52"},{"t":4.05,"a":12,"f":"52"},{"t":4.1,"a":10,"f":"52"},{"t":4.25,"a":13,"f":"52"},{"t":4.3,"a":11,"f":"52"},{"t":4.35,"a":8,"f":"52"},{"t":4.5,"a":7,"f":"52"},{"t":4.55,"a":11,"f":"52"},{"t":4.17,"a":21.5,"f":"52"},{"t":4.75,"a":13,"f":"52"},
      {"t":6.55,"a":0,"f":"52"},{"t":6.6,"a":-2,"f":"52"},{"t":6.65,"a":-4,"f":"52"},{"t":6.7,"a":1,"f":"52"},{"t":6.75,"a":-7,"f":"52"},{"t":6.8,"a":2,"f":"52"},{"t":6.85,"a":-4,"f":"52"},{"t":6.95,"a":5,"f":"52"},{"t":7.0,"a":6,"f":"52"},{"t":7.05,"a":2,"f":"52"},{"t":7.1,"a":3,"f":"52"},{"t":7.2,"a":8,"f":"52"},{"t":7.25,"a":4,"f":"52"},{"t":7.35,"a":10,"f":"52"},{"t":7.4,"a":8,"f":"52"},{"t":7.5,"a":9,"f":"52"},{"t":7.6,"a":9,"f":"52"},{"t":7.85,"a":20,"f":"52"},{"t":8.25,"a":14,"f":"52"},{"t":8.45,"a":14.5,"f":"52"},
      {"t":8.7,"a":5,"f":"52"},{"t":8.75,"a":6,"f":"52"},{"t":8.8,"a":2,"f":"52"},{"t":8.85,"a":-1,"f":"52"},{"t":8.95,"a":4,"f":"52"},{"t":9.0,"a":0,"f":"52"},{"t":9.05,"a":-5,"f":"52"},{"t":9.1,"a":3,"f":"52"},{"t":9.15,"a":-1,"f":"52"},{"t":9.2,"a":6,"f":"52"},{"t":9.25,"a":2,"f":"52"},{"t":9.3,"a":-2,"f":"52"},{"t":9.35,"a":-3,"f":"52"},{"t":9.45,"a":-2,"f":"52"},{"t":9.55,"a":0,"f":"52"},{"t":9.9,"a":20,"f":"52"},{"t":10.1,"a":11.6,"f":"52"},{"t":9.6,"a":11,"f":"52"},
      {"t":22.9,"a":29,"f":"52"},{"t":22.95,"a":34,"f":"52"},{"t":23.0,"a":33.5,"f":"52"},{"t":23.0,"a":47.8,"f":"52"},{"t":23.1,"a":39,"f":"52"},{"t":23.2,"a":42.4,"f":"52"},{"t":23.25,"a":38,"f":"52"},{"t":23.35,"a":42,"f":"52"},{"t":23.45,"a":41,"f":"52"},{"t":23.5,"a":37,"f":"52"},{"t":23.55,"a":38,"f":"52"},{"t":23.65,"a":36,"f":"52"},{"t":23.7,"a":35,"f":"52"},{"t":23.75,"a":33,"f":"52"},{"t":23.8,"a":36,"f":"52"},{"t":23.85,"a":31,"f":"52"},{"t":23.9,"a":32,"f":"52"},{"t":23.95,"a":35,"f":"52"},{"t":22.95,"a":15,"f":"52"},
      {"t":2.98,"a":44.6,"f":"100"},{"t":3.0,"a":42,"f":"100"},{"t":3.05,"a":38,"f":"100"},{"t":3.1,"a":36,"f":"100"},{"t":3.15,"a":36.5,"f":"100"},{"t":3.2,"a":33,"f":"100"},{"t":3.25,"a":34.5,"f":"100"},{"t":3.3,"a":29,"f":"100"},{"t":3.35,"a":29.5,"f":"100"},{"t":3.05,"a":24.5,"f":"100"},{"t":3.0,"a":23.5,"f":"100"},{"t":6.5,"a":41,"f":"100"},{"t":6.55,"a":37,"f":"100"},{"t":6.6,"a":36,"f":"100"},{"t":6.65,"a":38,"f":"100"},{"t":6.7,"a":37.5,"f":"100"},{"t":6.75,"a":35,"f":"100"},{"t":6.8,"a":39,"f":"100"},{"t":6.85,"a":43,"f":"100"},{"t":6.9,"a":44,"f":"100"},{"t":6.65,"a":30,"f":"100"},{"t":8.75,"a":28,"f":"100"},{"t":23.4,"a":74.5,"f":"100"}
    ],
    "dl": [
      {"t":0,"v":0.062,"f":"52"},{"t":0.5,"v":0.06,"f":"52"},{"t":1.0,"v":0.059,"f":"52"},{"t":1.5,"v":0.059,"f":"52"},{"t":2.0,"v":0.058,"f":"52"},{"t":2.4,"v":0.058,"f":"52"},{"t":2.6,"v":0.062,"f":"52"},{"t":2.8,"v":0.08,"f":"52"},{"t":3.0,"v":0.12,"f":"52"},{"t":3.2,"v":0.16,"f":"52"},{"t":3.4,"v":0.18,"f":"52"},{"t":3.66,"v":0.187,"f":"52"},{"t":3.9,"v":0.178,"f":"52"},{"t":4.2,"v":0.155,"f":"52"},{"t":4.45,"v":0.137,"f":"52"},{"t":4.8,"v":0.11,"f":"52"},{"t":5.1,"v":0.088,"f":"52"},{"t":5.4,"v":0.078,"f":"52"},{"t":5.8,"v":0.072,"f":"52"},{"t":6.0,"v":0.07,"f":"52"},{"t":6.3,"v":0.065,"f":"52"},{"t":6.5,"v":0.075,"f":"52"},{"t":6.7,"v":0.1,"f":"52"},{"t":6.85,"v":0.125,"f":"52"},{"t":7.0,"v":0.133,"f":"52"},{"t":7.2,"v":0.128,"f":"52"},{"t":7.5,"v":0.11,"f":"52"},{"t":7.76,"v":0.088,"f":"52"},{"t":8.0,"v":0.08,"f":"52"},{"t":8.38,"v":0.071,"f":"52"},{"t":8.6,"v":0.09,"f":"52"},{"t":8.8,"v":0.104,"f":"52"},{"t":9.09,"v":0.108,"f":"52"},{"t":9.4,"v":0.1,"f":"52"},{"t":9.8,"v":0.082,"f":"52"},{"t":10.24,"v":0.07,"f":"52"},{"t":10.5,"v":0.064,"f":"52"},{"t":10.77,"v":0.061,"f":"52"},{"t":11.0,"v":0.07,"f":"52"},{"t":11.3,"v":0.076,"f":"52"},{"t":11.6,"v":0.076,"f":"52"},{"t":11.8,"v":0.073,"f":"52"},{"t":12.2,"v":0.062,"f":"52"},{"t":12.6,"v":0.058,"f":"52"},{"t":13.0,"v":0.066,"f":"52"},{"t":13.4,"v":0.056,"f":"52"},{"t":13.8,"v":0.062,"f":"52"},{"t":14.1,"v":0.068,"f":"52"},{"t":14.4,"v":0.058,"f":"52"},{"t":14.75,"v":0.052,"f":"52"},{"t":15.3,"v":0.055,"f":"52"},{"t":15.6,"v":0.06,"f":"52"},{"t":15.9,"v":0.064,"f":"52"},{"t":16.5,"v":0.061,"f":"52"},{"t":17.1,"v":0.066,"f":"52"},{"t":17.4,"v":0.072,"f":"52"},{"t":17.6,"v":0.062,"f":"52"},{"t":17.9,"v":0.066,"f":"52"},{"t":18.3,"v":0.065,"f":"52"},{"t":18.7,"v":0.067,"f":"52"},{"t":19.35,"v":0.07,"f":"52"},{"t":19.75,"v":0.06,"f":"52"},{"t":20.1,"v":0.052,"f":"52"},{"t":21.0,"v":0.052,"f":"52"},{"t":21.5,"v":0.054,"f":"52"},{"t":22.0,"v":0.054,"f":"52"},{"t":22.4,"v":0.052,"f":"52"},{"t":22.6,"v":0.056,"f":"52"},{"t":22.8,"v":0.066,"f":"52"},{"t":23.0,"v":0.085,"f":"52"},{"t":23.2,"v":0.12,"f":"52"},{"t":23.4,"v":0.17,"f":"52"},{"t":23.55,"v":0.205,"f":"52"},{"t":23.8,"v":0.208,"f":"52"},{"t":24,"v":0.19,"f":"52"},
      {"t":0,"v":0.036,"f":"100"},{"t":0.5,"v":0.035,"f":"100"},{"t":1.0,"v":0.035,"f":"100"},{"t":1.5,"v":0.036,"f":"100"},{"t":2.0,"v":0.036,"f":"100"},{"t":2.3,"v":0.039,"f":"100"},{"t":2.6,"v":0.05,"f":"100"},{"t":2.8,"v":0.062,"f":"100"},{"t":2.9,"v":0.067,"f":"100"},{"t":3.1,"v":0.06,"f":"100"},{"t":3.5,"v":0.05,"f":"100"},{"t":3.8,"v":0.044,"f":"100"},{"t":4.2,"v":0.04,"f":"100"},{"t":4.6,"v":0.039,"f":"100"},{"t":5.1,"v":0.037,"f":"100"},{"t":5.5,"v":0.036,"f":"100"},{"t":6.0,"v":0.039,"f":"100"},{"t":6.3,"v":0.049,"f":"100"},{"t":6.5,"v":0.047,"f":"100"},{"t":6.8,"v":0.045,"f":"100"},{"t":7.1,"v":0.042,"f":"100"},{"t":7.5,"v":0.039,"f":"100"},{"t":7.8,"v":0.04,"f":"100"},{"t":8.1,"v":0.06,"f":"100"},{"t":8.3,"v":0.07,"f":"100"},{"t":8.5,"v":0.062,"f":"100"},{"t":8.8,"v":0.05,"f":"100"},{"t":9.1,"v":0.045,"f":"100"},{"t":9.5,"v":0.039,"f":"100"},{"t":10.0,"v":0.036,"f":"100"},{"t":10.5,"v":0.035,"f":"100"},{"t":11.0,"v":0.042,"f":"100"},{"t":11.3,"v":0.045,"f":"100"},{"t":11.6,"v":0.041,"f":"100"},{"t":12.0,"v":0.038,"f":"100"},{"t":12.5,"v":0.036,"f":"100"},{"t":13.0,"v":0.035,"f":"100"},{"t":13.5,"v":0.034,"f":"100"},{"t":14.0,"v":0.037,"f":"100"},{"t":14.5,"v":0.034,"f":"100"},{"t":15.0,"v":0.033,"f":"100"},{"t":15.5,"v":0.032,"f":"100"},{"t":16.0,"v":0.033,"f":"100"},{"t":16.5,"v":0.033,"f":"100"},{"t":17.0,"v":0.035,"f":"100"},{"t":17.5,"v":0.037,"f":"100"},{"t":18.0,"v":0.04,"f":"100"},{"t":18.3,"v":0.038,"f":"100"},{"t":18.6,"v":0.041,"f":"100"},{"t":19.0,"v":0.039,"f":"100"},{"t":19.3,"v":0.04,"f":"100"},{"t":19.6,"v":0.034,"f":"100"},{"t":20.0,"v":0.031,"f":"100"},{"t":20.5,"v":0.031,"f":"100"},{"t":21.0,"v":0.031,"f":"100"},{"t":21.5,"v":0.032,"f":"100"},{"t":22.0,"v":0.034,"f":"100"},{"t":22.3,"v":0.045,"f":"100"},{"t":22.6,"v":0.062,"f":"100"},{"t":22.8,"v":0.068,"f":"100"},{"t":23.0,"v":0.06,"f":"100"},{"t":23.3,"v":0.048,"f":"100"},{"t":23.6,"v":0.04,"f":"100"},{"t":24,"v":0.037,"f":"100"},
      {"t":0,"v":0.047,"f":"120"},{"t":0.5,"v":0.047,"f":"120"},{"t":1.0,"v":0.046,"f":"120"},{"t":1.5,"v":0.047,"f":"120"},{"t":1.9,"v":0.047,"f":"120"},{"t":2.3,"v":0.05,"f":"120"},{"t":2.6,"v":0.06,"f":"120"},{"t":2.8,"v":0.07,"f":"120"},{"t":3.0,"v":0.068,"f":"120"},{"t":3.3,"v":0.061,"f":"120"},{"t":3.7,"v":0.056,"f":"120"},{"t":4.2,"v":0.054,"f":"120"},{"t":4.7,"v":0.053,"f":"120"},{"t":5.1,"v":0.055,"f":"120"},{"t":5.5,"v":0.052,"f":"120"},{"t":6.0,"v":0.05,"f":"120"},{"t":6.3,"v":0.061,"f":"120"},{"t":6.6,"v":0.056,"f":"120"},{"t":7.0,"v":0.052,"f":"120"},{"t":7.5,"v":0.049,"f":"120"},{"t":7.9,"v":0.05,"f":"120"},{"t":8.1,"v":0.065,"f":"120"},{"t":8.3,"v":0.08,"f":"120"},{"t":8.5,"v":0.07,"f":"120"},{"t":8.7,"v":0.057,"f":"120"},{"t":9.0,"v":0.051,"f":"120"},{"t":9.5,"v":0.048,"f":"120"},{"t":10.0,"v":0.048,"f":"120"},{"t":10.5,"v":0.051,"f":"120"},{"t":10.9,"v":0.054,"f":"120"},{"t":11.3,"v":0.052,"f":"120"},{"t":12.0,"v":0.047,"f":"120"},{"t":12.5,"v":0.047,"f":"120"},{"t":13.0,"v":0.046,"f":"120"},{"t":13.5,"v":0.047,"f":"120"},{"t":14.0,"v":0.049,"f":"120"},{"t":14.5,"v":0.047,"f":"120"},{"t":15.0,"v":0.046,"f":"120"},{"t":16.0,"v":0.046,"f":"120"},{"t":17.0,"v":0.047,"f":"120"},{"t":18.0,"v":0.047,"f":"120"},{"t":19.0,"v":0.046,"f":"120"},{"t":20.0,"v":0.045,"f":"120"},{"t":21.0,"v":0.046,"f":"120"},{"t":22.0,"v":0.047,"f":"120"},{"t":22.3,"v":0.052,"f":"120"},{"t":22.6,"v":0.07,"f":"120"},{"t":22.75,"v":0.073,"f":"120"},{"t":23.0,"v":0.065,"f":"120"},{"t":23.3,"v":0.055,"f":"120"},{"t":23.6,"v":0.049,"f":"120"},{"t":24,"v":0.046,"f":"120"},
      {"t":0,"v":0.0316,"f":"148"},{"t":0.5,"v":0.031,"f":"148"},{"t":1.0,"v":0.03,"f":"148"},{"t":1.5,"v":0.031,"f":"148"},{"t":1.9,"v":0.031,"f":"148"},{"t":2.3,"v":0.032,"f":"148"},{"t":2.5,"v":0.036,"f":"148"},{"t":2.7,"v":0.048,"f":"148"},{"t":2.9,"v":0.05,"f":"148"},{"t":3.1,"v":0.047,"f":"148"},{"t":3.3,"v":0.042,"f":"148"},{"t":3.6,"v":0.044,"f":"148"},{"t":3.8,"v":0.034,"f":"148"},{"t":4.2,"v":0.033,"f":"148"},{"t":4.6,"v":0.034,"f":"148"},{"t":4.9,"v":0.038,"f":"148"},{"t":5.2,"v":0.036,"f":"148"},{"t":5.6,"v":0.031,"f":"148"},{"t":6.0,"v":0.034,"f":"148"},{"t":6.3,"v":0.057,"f":"148"},{"t":6.5,"v":0.045,"f":"148"},{"t":6.8,"v":0.036,"f":"148"},{"t":7.0,"v":0.032,"f":"148"},{"t":7.5,"v":0.031,"f":"148"},{"t":7.9,"v":0.03,"f":"148"},{"t":8.1,"v":0.038,"f":"148"},{"t":8.25,"v":0.05,"f":"148"},{"t":8.4,"v":0.048,"f":"148"},{"t":8.6,"v":0.042,"f":"148"},{"t":8.9,"v":0.036,"f":"148"},{"t":9.2,"v":0.032,"f":"148"},{"t":9.6,"v":0.033,"f":"148"},{"t":10.0,"v":0.032,"f":"148"},{"t":10.4,"v":0.039,"f":"148"},{"t":10.7,"v":0.032,"f":"148"},{"t":11.0,"v":0.031,"f":"148"},{"t":12.0,"v":0.031,"f":"148"},{"t":12.5,"v":0.03,"f":"148"},{"t":13.0,"v":0.03,"f":"148"},{"t":13.5,"v":0.03,"f":"148"},{"t":14.0,"v":0.033,"f":"148"},{"t":14.4,"v":0.03,"f":"148"},{"t":15.0,"v":0.029,"f":"148"},{"t":16.0,"v":0.03,"f":"148"},{"t":16.5,"v":0.03,"f":"148"},{"t":17.0,"v":0.03,"f":"148"},{"t":18.0,"v":0.029,"f":"148"},{"t":19.0,"v":0.029,"f":"148"},{"t":20.0,"v":0.0285,"f":"148"},{"t":21.0,"v":0.0285,"f":"148"},{"t":21.5,"v":0.029,"f":"148"},{"t":21.8,"v":0.032,"f":"148"},{"t":22.2,"v":0.037,"f":"148"},{"t":22.5,"v":0.05,"f":"148"},{"t":22.65,"v":0.055,"f":"148"},{"t":22.9,"v":0.038,"f":"148"},{"t":23.2,"v":0.032,"f":"148"},{"t":23.6,"v":0.03,"f":"148"},{"t":24,"v":0.031,"f":"148"},
      {"t":0,"v":0.035,"f":"272"},{"t":0.5,"v":0.036,"f":"272"},{"t":1.0,"v":0.035,"f":"272"},{"t":1.5,"v":0.037,"f":"272"},{"t":2.0,"v":0.036,"f":"272"},{"t":2.3,"v":0.04,"f":"272"},{"t":2.45,"v":0.228,"f":"272"},{"t":2.55,"v":0.08,"f":"272"},{"t":2.7,"v":0.055,"f":"272"},{"t":2.9,"v":0.046,"f":"272"},{"t":3.1,"v":0.046,"f":"272"},{"t":3.3,"v":0.04,"f":"272"},{"t":3.6,"v":0.038,"f":"272"},{"t":4.0,"v":0.038,"f":"272"},{"t":4.3,"v":0.04,"f":"272"},{"t":4.6,"v":0.047,"f":"272"},{"t":4.8,"v":0.04,"f":"272"},{"t":5.1,"v":0.042,"f":"272"},{"t":5.3,"v":0.045,"f":"272"},{"t":5.6,"v":0.038,"f":"272"},{"t":6.0,"v":0.046,"f":"272"},{"t":6.3,"v":0.044,"f":"272"},{"t":6.7,"v":0.041,"f":"272"},{"t":7.0,"v":0.039,"f":"272"},{"t":7.4,"v":0.038,"f":"272"},{"t":7.7,"v":0.037,"f":"272"},{"t":7.9,"v":0.06,"f":"272"},{"t":7.95,"v":0.087,"f":"272"},{"t":8.05,"v":0.06,"f":"272"},{"t":8.2,"v":0.049,"f":"272"},{"t":8.5,"v":0.042,"f":"272"},{"t":8.8,"v":0.04,"f":"272"},{"t":9.4,"v":0.036,"f":"272"},{"t":10.0,"v":0.037,"f":"272"},{"t":10.4,"v":0.046,"f":"272"},{"t":10.7,"v":0.037,"f":"272"},{"t":11.0,"v":0.035,"f":"272"},{"t":12.0,"v":0.035,"f":"272"},{"t":13.0,"v":0.035,"f":"272"},{"t":13.6,"v":0.036,"f":"272"},{"t":14.0,"v":0.039,"f":"272"},{"t":14.4,"v":0.036,"f":"272"},{"t":15.0,"v":0.035,"f":"272"},{"t":16.0,"v":0.035,"f":"272"},{"t":17.0,"v":0.035,"f":"272"},{"t":17.5,"v":0.037,"f":"272"},{"t":18.0,"v":0.036,"f":"272"},{"t":19.0,"v":0.035,"f":"272"},{"t":20.0,"v":0.034,"f":"272"},{"t":21.0,"v":0.034,"f":"272"},{"t":21.3,"v":0.038,"f":"272"},{"t":21.6,"v":0.035,"f":"272"},{"t":22.0,"v":0.042,"f":"272"},{"t":22.2,"v":0.038,"f":"272"},{"t":22.5,"v":0.035,"f":"272"},{"t":23.2,"v":0.039,"f":"272"},{"t":23.5,"v":0.035,"f":"272"},{"t":24,"v":0.035,"f":"272"},
      {"t":0,"v":0.052,"f":"540"},{"t":0.5,"v":0.051,"f":"540"},{"t":1.0,"v":0.052,"f":"540"},{"t":1.5,"v":0.054,"f":"540"},{"t":2.0,"v":0.053,"f":"540"},{"t":2.2,"v":0.06,"f":"540"},{"t":2.25,"v":0.274,"f":"540"},{"t":2.32,"v":0.07,"f":"540"},{"t":2.5,"v":0.058,"f":"540"},{"t":2.8,"v":0.059,"f":"540"},{"t":3.0,"v":0.057,"f":"540"},{"t":3.3,"v":0.061,"f":"540"},{"t":3.6,"v":0.058,"f":"540"},{"t":4.0,"v":0.059,"f":"540"},{"t":4.3,"v":0.062,"f":"540"},{"t":4.6,"v":0.076,"f":"540"},{"t":4.7,"v":0.06,"f":"540"},{"t":5.0,"v":0.058,"f":"540"},{"t":5.4,"v":0.057,"f":"540"},{"t":5.8,"v":0.095,"f":"540"},{"t":5.9,"v":0.062,"f":"540"},{"t":6.2,"v":0.058,"f":"540"},{"t":6.6,"v":0.057,"f":"540"},{"t":7.0,"v":0.056,"f":"540"},{"t":7.4,"v":0.055,"f":"540"},{"t":7.8,"v":0.062,"f":"540"},{"t":8.0,"v":0.055,"f":"540"},{"t":8.5,"v":0.054,"f":"540"},{"t":9.0,"v":0.054,"f":"540"},{"t":9.4,"v":0.058,"f":"540"},{"t":9.8,"v":0.053,"f":"540"},{"t":10.2,"v":0.056,"f":"540"},{"t":10.6,"v":0.052,"f":"540"},{"t":11.0,"v":0.052,"f":"540"},{"t":12.0,"v":0.051,"f":"540"},{"t":13.0,"v":0.051,"f":"540"},{"t":13.6,"v":0.056,"f":"540"},{"t":13.9,"v":0.082,"f":"540"},{"t":14.05,"v":0.075,"f":"540"},{"t":14.3,"v":0.06,"f":"540"},{"t":14.7,"v":0.053,"f":"540"},{"t":15.2,"v":0.052,"f":"540"},{"t":15.8,"v":0.055,"f":"540"},{"t":16.2,"v":0.052,"f":"540"},{"t":17.0,"v":0.053,"f":"540"},{"t":17.1,"v":0.066,"f":"540"},{"t":17.25,"v":0.053,"f":"540"},{"t":18.0,"v":0.051,"f":"540"},{"t":19.0,"v":0.051,"f":"540"},{"t":20.0,"v":0.051,"f":"540"},{"t":21.0,"v":0.051,"f":"540"},{"t":21.3,"v":0.058,"f":"540"},{"t":21.5,"v":0.052,"f":"540"},{"t":22.0,"v":0.051,"f":"540"},{"t":22.7,"v":0.054,"f":"540"},{"t":23.0,"v":0.052,"f":"540"},{"t":23.5,"v":0.052,"f":"540"},{"t":24,"v":0.052,"f":"540"},
      {"t":0,"v":0.094,"f":"940"},{"t":0.5,"v":0.093,"f":"940"},{"t":1.0,"v":0.095,"f":"940"},{"t":1.2,"v":0.097,"f":"940"},{"t":1.5,"v":0.094,"f":"940"},{"t":2.0,"v":0.094,"f":"940"},{"t":2.2,"v":0.1,"f":"940"},{"t":2.3,"v":0.17,"f":"940"},{"t":2.4,"v":0.13,"f":"940"},{"t":2.5,"v":0.096,"f":"940"},{"t":3.0,"v":0.095,"f":"940"},{"t":3.5,"v":0.096,"f":"940"},{"t":3.7,"v":0.105,"f":"940"},{"t":3.9,"v":0.096,"f":"940"},{"t":4.5,"v":0.096,"f":"940"},{"t":5.0,"v":0.097,"f":"940"},{"t":5.5,"v":0.098,"f":"940"},{"t":5.9,"v":0.105,"f":"940"},{"t":6.1,"v":0.098,"f":"940"},{"t":6.5,"v":0.1,"f":"940"},{"t":6.7,"v":0.112,"f":"940"},{"t":6.9,"v":0.108,"f":"940"},{"t":7.1,"v":0.118,"f":"940"},{"t":7.3,"v":0.104,"f":"940"},{"t":7.6,"v":0.1,"f":"940"},{"t":7.9,"v":0.12,"f":"940"},{"t":8.0,"v":0.1,"f":"940"},{"t":8.3,"v":0.096,"f":"940"},{"t":9.0,"v":0.095,"f":"940"},{"t":10.0,"v":0.095,"f":"940"},{"t":11.0,"v":0.096,"f":"940"},{"t":12.0,"v":0.095,"f":"940"},{"t":13.0,"v":0.094,"f":"940"},{"t":13.5,"v":0.096,"f":"940"},{"t":13.8,"v":0.1,"f":"940"},{"t":14.1,"v":0.102,"f":"940"},{"t":14.4,"v":0.099,"f":"940"},{"t":14.8,"v":0.097,"f":"940"},{"t":15.2,"v":0.096,"f":"940"},{"t":15.6,"v":0.098,"f":"940"},{"t":16.0,"v":0.097,"f":"940"},{"t":16.5,"v":0.096,"f":"940"},{"t":17.0,"v":0.098,"f":"940"},{"t":17.2,"v":0.115,"f":"940"},{"t":17.4,"v":0.097,"f":"940"},{"t":17.8,"v":0.096,"f":"940"},{"t":18.1,"v":0.11,"f":"940"},{"t":18.3,"v":0.108,"f":"940"},{"t":18.6,"v":0.101,"f":"940"},{"t":19.0,"v":0.097,"f":"940"},{"t":19.5,"v":0.095,"f":"940"},{"t":20.0,"v":0.093,"f":"940"},{"t":21.0,"v":0.094,"f":"940"},{"t":21.2,"v":0.1,"f":"940"},{"t":21.4,"v":0.094,"f":"940"},{"t":22.0,"v":0.093,"f":"940"},{"t":23.0,"v":0.093,"f":"940"},{"t":24,"v":0.093,"f":"940"}
    ]
  },
  "vconcat": [
    {
      "width": 452,
      "height": 280,
      "layer": [
        {
          "data": {"name": "planets"},
          "transform": [{"filter": "datum.body === 'Saturn'"}],
          "mark": {"type": "rule", "strokeWidth": 4, "color": "#ff0000"},
          "encoding": {"y": {"field": "az", "type": "quantitative", "scale": {"domain": [-90, 90], "nice": false}, "axis": null}}
        },
        {
          "data": {"name": "planets"},
          "transform": [{"filter": "datum.body === 'Jupiter'"}],
          "mark": {"type": "rule", "strokeWidth": 4, "color": "#000000"},
          "encoding": {"y": {"field": "az", "type": "quantitative", "axis": null}}
        },
        {
          "data": {"name": "df"},
          "mark": {"type": "point", "shape": "M-1,-0.5L1,-0.5L1,0.5L-1,0.5Z", "filled": true, "size": 14, "opacity": 1},
          "encoding": {
            "x": {"field": "t", "type": "quantitative", "scale": {"domain": [0, 24], "nice": false},
              "axis": {"orient": "bottom", "values": [0,1,2,3,4,5,6,7,8,9,10,11,12,13,14,15,16,17,18,19,20,21,22,23,24], "labels": false, "title": null,
                "tickSize": {"condition": {"test": "datum.value % 6 === 0", "value": 6}, "value": -3.5}}},
            "y": {"field": "a", "type": "quantitative",
              "axis": {"orient": "left", "values": [-90,-80,-70,-60,-50,-40,-30,-20,-10,0,10,20,30,40,50,60,70,80,90],
                "labelExpr": "datum.value % 30 === 0 ? '' + datum.value : ''",
                "tickSize": {"condition": {"test": "datum.value % 30 === 0", "value": 9}, "value": 4.5},
                "labelPadding": 3, "title": "Azimuthal angle (deg)", "titlePadding": 15}},
            "color": {"field": "f", "type": "nominal",
              "scale": {"domain": ["52","100","120","148","272","540","940"], "range": ["#ff0000","#ffa500","#c8c800","#00ee00","#00a8ff","#0000ff","#a020f0"]}}
          }
        },
        {
          "data": {"name": "planets"},
          "mark": {"type": "text", "align": "left", "baseline": "middle", "dx": 1, "fontSize": 13, "font": "DejaVu Sans", "color": "black"},
          "encoding": {
            "x": {"datum": 24, "type": "quantitative",
              "axis": {"orient": "top", "values": [0,1,2,3,4,5,6,7,8,9,10,11,12,13,14,15,16,17,18,19,20,21,22,23,24], "labels": false, "title": null,
                "tickSize": {"condition": {"test": "datum.value % 6 === 0", "value": 6}, "value": -3.5}}},
            "y": {"field": "az", "type": "quantitative",
              "axis": {"orient": "right", "values": [-90,-80,-70,-60,-50,-40,-30,-20,-10,0,10,20,30,40,50,60,70,80,90], "labels": false, "title": null, "tickSize": 8}},
            "text": {"field": "body"}
          }
        }
      ],
      "resolve": {"axis": {"x": "independent", "y": "independent"}}
    },
    {
      "width": 452,
      "height": 210,
      "data": {"name": "dl"},
      "layer": [
        {
          "transform": [{"filter": "datum.f !== '940'"}],
          "mark": {"type": "line", "strokeWidth": 2.2},
          "encoding": {
            "x": {"field": "t", "type": "quantitative", "scale": {"domain": [0, 24], "nice": false},
              "axis": {"orient": "bottom", "values": [0,1,2,3,4,5,6,7,8,9,10,11,12,13,14,15,16,17,18,19,20,21,22,23,24],
                "labelExpr": "datum.value % 6 === 0 ? '' + datum.value : ''",
                "tickSize": {"condition": {"test": "datum.value % 6 === 0", "value": 8}, "value": -3},
                "labelPadding": 9, "labelFontSize": 13, "title": "time - hours on 1991-05-28", "titlePadding": 7}},
            "y": {"field": "v", "type": "quantitative", "scale": {"type": "log", "domain": [0.01, 1], "nice": false},
              "axis": {"orient": "left", "values": [0.01,0.0215,0.0464,0.1,0.215,0.464,1],
                "labelExpr": "indexof([0.01,0.1,1], datum.value) >= 0 ? format(datum.value, '.2f') : ''",
                "tickSize": {"condition": {"test": "indexof([0.01,0.1,1], datum.value) >= 0", "value": 9}, "value": 4.5},
                "labelPadding": 3, "title": "intensity (microvolt/sqrt(Hz))", "titlePadding": 12}},
            "color": {"field": "f", "type": "nominal",
              "scale": {"domain": ["52","100","120","148","272","540","940"], "range": ["#ff0000","#ffa500","#c8c800","#00ee00","#00a8ff","#0000ff","#a020f0"]},
              "legend": {"orient": "bottom", "direction": "horizontal", "title": "Frequencies (kHz):", "titleOrient": "left", "offset": 14,
                "titleFont": "DejaVu Sans", "titleFontSize": 13, "titleFontWeight": "normal", "titleColor": "black", "titlePadding": -3,
                "labelFont": "DejaVu Sans", "labelFontSize": 13, "labelOffset": 0, "symbolSize": 1, "symbolOpacity": 0, "symbolStrokeWidth": 0,
                "columnPadding": 12, "gridAlign": "all",
                "encode": {"labels": {"update": {"fill": {"scale": "color", "field": "value"}}}}}}
          }
        },
        {
          "transform": [{"filter": "datum.f === '940'"}],
          "mark": {"type": "line", "strokeWidth": 2.2},
          "encoding": {
            "x": {"field": "t", "type": "quantitative",
              "axis": {"orient": "top", "values": [0,1,2,3,4,5,6,7,8,9,10,11,12,13,14,15,16,17,18,19,20,21,22,23,24], "labels": false, "title": null,
                "tickSize": {"condition": {"test": "datum.value % 6 === 0", "value": 4.5}, "value": -3}}},
            "y": {"field": "v", "type": "quantitative",
              "axis": {"orient": "right", "values": [0.01,0.0215,0.0464,0.1,0.215,0.464,1], "labels": false, "title": null, "tickSize": 9}},
            "color": {"field": "f", "type": "nominal"}
          }
        }
      ],
      "resolve": {"axis": {"x": "independent", "y": "independent"}}
    }
  ]
}
